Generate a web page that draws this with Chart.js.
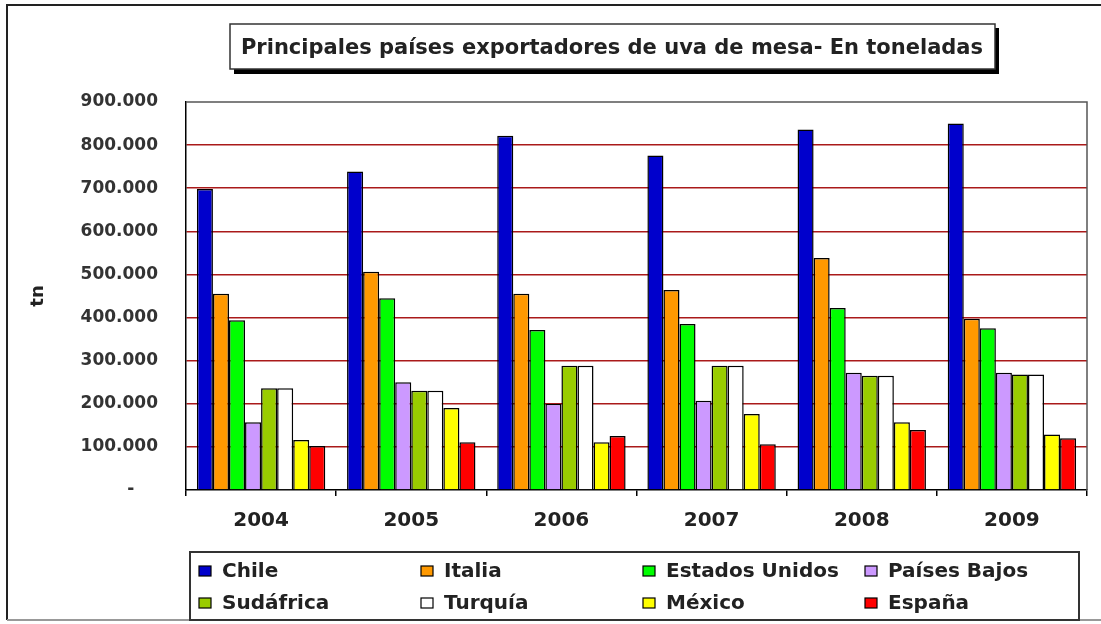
<!DOCTYPE html>
<html lang="es">
<head>
    <meta charset="UTF-8">
    <title>Uva de mesa</title>
    <script src="https://cdn.jsdelivr.net/npm/chart.js"></script>
    <style>
        body {
            margin: 0;
            padding: 0;
            background: #ffffff;
        }
        #chartWrap {
            width: 1101px;
            height: 624px;
        }
    </style>
</head>
<body>
    <div id="chartWrap">
        <canvas id="uvaChart" width="1101" height="624"></canvas>
    </div>

    <script>
        const years = ['2004', '2005', '2006', '2007', '2008', '2009'];
        const countries = ['Chile', 'Italia', 'Estados Unidos', 'Países Bajos', 'Sudáfrica', 'Turquía', 'México', 'España'];
        const countryColors = ['#0000cc', '#ff9900', '#00ff00', '#cc99ff', '#99cc00', '#ffffff', '#ffff00', '#ff0000'];

        const chile = [698000, 739000, 822000, 776000, 836000, 850000];
        const italia = [455000, 506000, 455000, 464000, 538000, 397000];
        const estadosUnidos = [394000, 445000, 371000, 385000, 422000, 375000];
        const paisesBajos = [157000, 250000, 200000, 207000, 272000, 272000];
        const sudafrica = [236000, 230000, 288000, 288000, 265000, 268000];
        const turquia = [236000, 230000, 288000, 288000, 265000, 268000];
        const mexico = [116000, 190000, 111000, 176000, 157000, 129000];
        const espana = [102000, 111000, 125000, 106000, 139000, 120000];

        const yTicks = [0, 100000, 200000, 300000, 400000, 500000, 600000, 700000, 800000, 900000];

        const seriesValues = [chile, italia, estadosUnidos, paisesBajos, sudafrica, turquia, mexico, espana];

        const titleText = 'Principales países exportadores de uva de mesa- En toneladas';

        function formatTn(v) {
            if (v === 0) return '-    ';
            return String(v).replace(/\B(?=(\d{3})+(?!\d))/g, '.');
        }

        // frame, title box and legend grid drawn on top of the chart
        const decorPlugin = {
            id: 'decor',
            beforeDatasetsDraw(chart) {
                const ctx = chart.ctx;
                const a = chart.chartArea;
                ctx.save();
                ctx.strokeStyle = '#555555';
                ctx.lineWidth = 1.5;
                ctx.beginPath();
                ctx.moveTo(a.left, a.top);
                ctx.lineTo(a.right, a.top);
                ctx.lineTo(a.right, a.bottom);
                ctx.stroke();
                ctx.restore();
            },
            afterDraw(chart) {
                const ctx = chart.ctx;
                ctx.save();

                // outer frame
                ctx.strokeStyle = '#222222';
                ctx.lineWidth = 2;
                ctx.beginPath();
                ctx.moveTo(1101, 5);
                ctx.lineTo(7, 5);
                ctx.lineTo(7, 620);
                ctx.stroke();
                ctx.strokeStyle = '#999999';
                ctx.beginPath();
                ctx.moveTo(7, 620);
                ctx.lineTo(1101, 620);
                ctx.stroke();

                // title box with shadow
                ctx.fillStyle = '#000000';
                ctx.fillRect(234, 28, 765, 46);
                ctx.fillStyle = '#ffffff';
                ctx.fillRect(230, 24, 765, 45);
                ctx.strokeStyle = '#333333';
                ctx.lineWidth = 1.5;
                ctx.strokeRect(230, 24, 765, 45);
                ctx.fillStyle = '#222222';
                ctx.font = 'bold 21px "DejaVu Sans"';
                ctx.textAlign = 'center';
                ctx.textBaseline = 'alphabetic';
                ctx.fillText(titleText, 612, 54);

                // legend box
                ctx.fillStyle = '#ffffff';
                ctx.fillRect(190, 552, 889, 68);
                ctx.strokeStyle = '#333333';
                ctx.lineWidth = 2;
                ctx.strokeRect(190, 552, 889, 68);

                ctx.font = 'bold 20px "DejaVu Sans"';
                ctx.textAlign = 'left';
                ctx.textBaseline = 'middle';
                chart.data.datasets.forEach((ds, i) => {
                    const col = i % 4;
                    const row = Math.floor(i / 4);
                    const bx = 199 + col * 222;
                    const cy = 571 + row * 32;
                    ctx.fillStyle = ds.backgroundColor;
                    ctx.fillRect(bx, cy - 5, 12, 10);
                    ctx.strokeStyle = '#000000';
                    ctx.lineWidth = 1.2;
                    ctx.strokeRect(bx, cy - 5, 12, 10);
                    ctx.fillStyle = '#222222';
                    ctx.fillText(ds.label, bx + 23, cy + 1);
                });

                ctx.restore();
            }
        };

        const datasets = countries.map((name, i) => ({
            label: name,
            data: seriesValues[i],
            backgroundColor: countryColors[i],
            borderColor: '#000000',
            borderWidth: 1.5,
            categoryPercentage: 0.855,
            barPercentage: 1.0
        }));

        const uvaChart = new Chart(document.getElementById('uvaChart').getContext('2d'), {
            type: 'bar',
            data: {
                labels: years,
                datasets: datasets
            },
            options: {
                responsive: false,
                animation: false,
                layout: {
                    padding: { top: 102, right: 14, left: 0, bottom: 0 }
                },
                plugins: {
                    legend: { display: false },
                    title: { display: false },
                    tooltip: { enabled: false }
                },
                scales: {
                    x: {
                        afterFit: (scale) => { scale.height = 134; },
                        grid: {
                            drawOnChartArea: false,
                            drawTicks: true,
                            tickLength: 6,
                            tickColor: '#000000',
                            lineWidth: 1.5
                        },
                        border: { color: '#000000', width: 1.5 },
                        ticks: {
                            color: '#222222',
                            padding: 13,
                            font: { family: 'DejaVu Sans', size: 20, weight: 'bold' }
                        }
                    },
                    y: {
                        min: 0,
                        max: 900000,
                        afterFit: (scale) => { scale.width = 186; },
                        afterBuildTicks: (scale) => {
                            scale.ticks = yTicks.map(v => ({ value: v }));
                        },
                        grid: {
                            drawTicks: false,
                            lineWidth: 1.5,
                            color: (c) => (c.tick && (c.tick.value === 0 || c.tick.value === 900000)) ? 'rgba(0,0,0,0)' : '#aa1a1a'
                        },
                        border: { color: '#000000', width: 1.5 },
                        ticks: {
                            color: '#333333',
                            padding: 28,
                            font: { family: 'DejaVu Sans', size: 17, weight: 'bold' },
                            callback: (v) => formatTn(v)
                        },
                        title: {
                            display: true,
                            text: 'tn',
                            color: '#222222',
                            padding: { top: 28, bottom: 0 },
                            font: { family: 'DejaVu Sans', size: 18, weight: 'bold' }
                        }
                    }
                }
            },
            plugins: [decorPlugin]
        });
    </script>
</body>
</html>
